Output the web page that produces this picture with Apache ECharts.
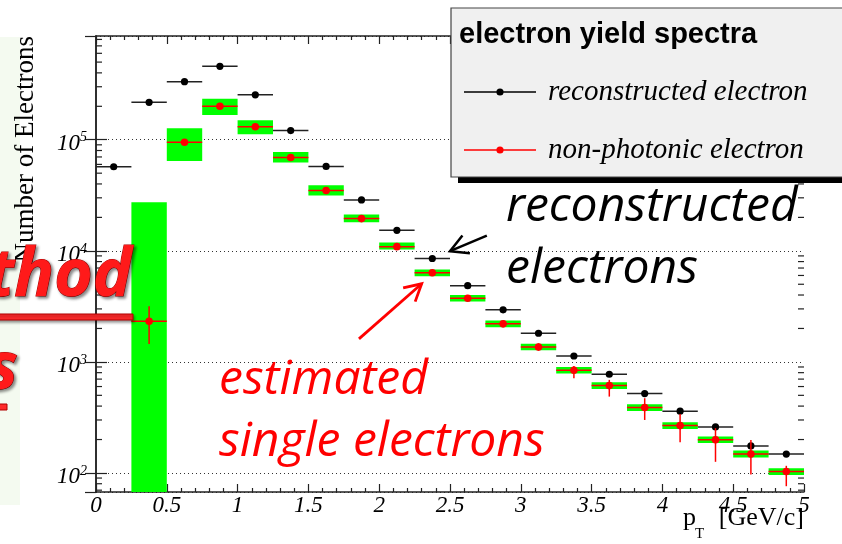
<!DOCTYPE html>
<html>
<head>
<meta charset="utf-8">
<script src="https://cdn.jsdelivr.net/npm/echarts@6/dist/echarts.min.js"></script>
<style>
  html, body { margin: 0; padding: 0; background: #fff; }
  #chart { width: 842px; height: 544px; }
</style>
</head>
<body>
<div id="chart"></div>
<script>
// pT bins [GeV/c]
const binLow  = [0.00, 0.25, 0.50, 0.75, 1.00, 1.25, 1.50, 1.75, 2.00, 2.25, 2.50, 2.75, 3.00, 3.25, 3.50, 3.75, 4.00, 4.25, 4.50, 4.75];
const binHigh = [0.25, 0.50, 0.75, 1.00, 1.25, 1.50, 1.75, 2.00, 2.25, 2.50, 2.75, 3.00, 3.25, 3.50, 3.75, 4.00, 4.25, 4.50, 4.75, 5.00];

// reconstructed electron yield per bin
const recoCounts = [57100, 217000, 333000, 458000, 254000, 121000, 57500, 28700, 15300, 8530, 4860, 2940, 1810, 1130, 774, 518, 360, 260, 175, 148];

// non-photonic electron yield with statistical error range
const npeCounts = [null, 2320, 94800, 200000, 131000, 69300, 34900, 19500, 10900, 6340, 3740, 2200, 1360, 841, 612, 388, 267, 199, 148, 103];
const npeStatLo = [null, 1450, 92000, 195000, 128000, 67600, 33900, 18900, 10500, 6080, 3560, 2070, 1260, 713, 487, 300, 189, 126, 97, 76];
const npeStatHi = [null, 3170, 97600, 205000, 134000, 71000, 35900, 20100, 11300, 6600, 3930, 2340, 1470, 920, 689, 471, 340, 253, 198, 116];

// systematic band of the non-photonic yield
const npeSysLo = [null, 1, 64300, 167000, 112000, 62500, 31400, 18100, 10300, 5910, 3490, 2050, 1270, 785, 570, 362, 249, 186, 138, 96];
const npeSysHi = [null, 27400, 127000, 234000, 150000, 77400, 38900, 21200, 11900, 6800, 4010, 2360, 1460, 900, 655, 415, 286, 213, 159, 110];

// axis ticks
const xTickLabels = ['0', '0.5', '1', '1.5', '2', '2.5', '3', '3.5', '4', '4.5', '5'];
const yMin = 67.4, yMax = 859000;
const yMinorMantissa = [2, 3, 4, 5, 6, 7, 8, 9];
const yDecades = [1, 2, 3, 4, 5];

const serif = '"Liberation Serif", "Times New Roman", serif';
const sans = '"Liberation Sans", Arial, sans-serif';
const hand = '"Open Sans", "Noto Sans", sans-serif';

const bandData = [], recoData = [], npeData = [], minorTicks = [];
for (let i = 0; i < binLow.length; i++) {
  recoData.push([binLow[i], binHigh[i], recoCounts[i]]);
  if (npeCounts[i] != null) npeData.push([binLow[i], binHigh[i], npeCounts[i], npeStatLo[i], npeStatHi[i]]);
  if (npeSysHi[i] != null) bandData.push([binLow[i], binHigh[i], npeSysLo[i], npeSysHi[i]]);
}
yDecades.forEach(d => yMinorMantissa.forEach(m => {
  const v = m * Math.pow(10, d);
  if (v > yMin && v < yMax) minorTicks.push([0, v]);
}));

function clipToGrid(rect, cs) {
  return echarts.graphic.clipRectByRect(rect, { x: cs.x, y: cs.y, width: cs.width, height: cs.height });
}

function renderBand(params, api) {
  const p0 = api.coord([api.value(0), api.value(3)]);
  const p1 = api.coord([api.value(1), api.value(2)]);
  const shape = clipToGrid({ x: p0[0], y: p0[1], width: p1[0] - p0[0], height: p1[1] - p0[1] }, params.coordSys);
  return shape && { type: 'rect', shape: shape, style: { fill: '#00ff00' } };
}

function renderReco(params, api) {
  const x0 = api.value(0), x1 = api.value(1), y = api.value(2);
  const a = api.coord([x0, y]), b = api.coord([x1, y]), c = api.coord([(x0 + x1) / 2, y]);
  return {
    type: 'group',
    children: [
      { type: 'line', shape: { x1: a[0], y1: a[1], x2: b[0], y2: b[1] }, style: { stroke: '#222', lineWidth: 1.5 } },
      { type: 'circle', shape: { cx: c[0], cy: c[1], r: 3.6 }, style: { fill: '#000' } }
    ]
  };
}

function renderNpe(params, api) {
  const x0 = api.value(0), x1 = api.value(1), y = api.value(2);
  const xc = (x0 + x1) / 2;
  const a = api.coord([x0, y]), b = api.coord([x1, y]), c = api.coord([xc, y]);
  const lo = api.coord([xc, api.value(3)]), hi = api.coord([xc, api.value(4)]);
  return {
    type: 'group',
    children: [
      { type: 'line', shape: { x1: a[0], y1: a[1], x2: b[0], y2: b[1] }, style: { stroke: '#ff0000', lineWidth: 1.5 } },
      { type: 'line', shape: { x1: lo[0], y1: lo[1], x2: hi[0], y2: hi[1] }, style: { stroke: '#ff0000', lineWidth: 1.5 } },
      { type: 'circle', shape: { cx: c[0], cy: c[1], r: 3.8 }, style: { fill: '#ff0000' } }
    ]
  };
}

function renderMinorTick(params, api) {
  const cs = params.coordSys;
  const p = api.coord([0, api.value(1)]);
  const st = { stroke: '#222', lineWidth: 1.2 };
  return {
    type: 'group',
    children: [
      { type: 'line', shape: { x1: cs.x, y1: p[1], x2: cs.x + 6, y2: p[1] }, style: st },
      { type: 'line', shape: { x1: cs.x + cs.width, y1: p[1], x2: cs.x + cs.width - 6, y2: p[1] }, style: st }
    ]
  };
}

// legend marker: line with a dot in the middle
const legendIcon = 'path://M0,3H32.6V4.4H0Z M39.4,3H72V4.4H39.4Z M32.4,3.7A3.6,3.6 0 1 1 39.6,3.7A3.6,3.6 0 1 1 32.4,3.7Z';
const axisLine = { show: true, lineStyle: { color: '#222', width: 1.5 } };

const xAxisBase = {
  type: 'value', min: 0, max: 5, interval: 0.5,
  axisLine: axisLine,
  axisTick: { show: true, inside: true, length: 8, lineStyle: { color: '#222', width: 1.2 } },
  minorTick: { show: true, splitNumber: 5, length: 4, lineStyle: { color: '#222', width: 1.2 } },
  splitLine: { show: false }
};
const yAxisBase = {
  type: 'log', logBase: 10, min: yMin, max: yMax,
  axisLine: axisLine,
  axisTick: { show: true, inside: true, length: 11, lineStyle: { color: '#222', width: 1.2 } },
  splitLine: { show: false }
};

const chart = echarts.init(document.getElementById('chart'));

chart.setOption({
  animation: false,
  backgroundColor: '#fff',
  grid: { left: 96, right: 38, top: 36, bottom: 52 },
  xAxis: [
    Object.assign({}, xAxisBase, {
      position: 'bottom',
      axisLabel: {
        margin: 2, color: '#000', fontFamily: serif, fontStyle: 'italic', fontSize: 23,
        formatter: v => xTickLabels[Math.round(v / 0.5)]
      }
    }),
    Object.assign({}, xAxisBase, { position: 'top', axisLabel: { show: false } })
  ],
  yAxis: [
    Object.assign({}, yAxisBase, {
      position: 'left',
      splitLine: { show: true, lineStyle: { color: '#333', width: 1, type: [1, 3] } },
      axisLabel: {
        margin: 9, showMinLabel: false, showMaxLabel: false, color: '#000',
        formatter: v => '{b|10}{s|' + Math.round(Math.log10(v)) + '}',
        rich: {
          b: { fontFamily: serif, fontStyle: 'italic', fontSize: 23, padding: [8, 0, 0, 0], color: '#000' },
          s: { fontFamily: serif, fontStyle: 'italic', fontSize: 14, padding: [0, 0, 4, 0], color: '#000' }
        }
      }
    }),
    Object.assign({}, yAxisBase, { position: 'right', axisLabel: { show: false } })
  ],
  legend: {
    left: 464, top: 77, orient: 'vertical', padding: 0,
    itemWidth: 72, itemHeight: 7.2, itemGap: 28, selectedMode: false, z: 20,
    textStyle: { fontFamily: serif, fontStyle: 'italic', fontSize: 29, lineHeight: 30, color: '#000', padding: [0, 0, 0, 7] },
    data: [
      { name: 'reconstructed electron', icon: legendIcon },
      { name: 'non-photonic electron', icon: legendIcon }
    ]
  },
  series: [
    { type: 'custom', name: 'sys', silent: true, renderItem: renderBand, data: bandData, encode: { x: [0, 1], y: [2, 3] }, z: 2 },
    { type: 'custom', name: 'reconstructed electron', renderItem: renderReco, data: recoData, itemStyle: { color: '#000' }, encode: { x: [0, 1], y: 2 }, z: 3 },
    { type: 'custom', name: 'non-photonic electron', renderItem: renderNpe, data: npeData, itemStyle: { color: '#ff0000' }, encode: { x: [0, 1], y: [2, 3, 4] }, z: 4 },
    { type: 'custom', silent: true, renderItem: renderMinorTick, data: minorTicks, encode: { x: 0, y: 1 }, z: 5 }
  ]
});

// annotation arrows anchored in data space
function px(pt) { return chart.convertToPixel({ seriesIndex: 1 }, pt); }
function arrow(tail, tip, color, width, head) {
  const t = px(tail), h = px(tip);
  const ang = Math.atan2(t[1] - h[1], t[0] - h[0]);
  const w1 = [h[0] + head * Math.cos(ang + 0.5), h[1] + head * Math.sin(ang + 0.5)];
  const w2 = [h[0] + head * Math.cos(ang - 0.5), h[1] + head * Math.sin(ang - 0.5)];
  return [
    { type: 'polyline', z: 30, shape: { points: [t, h] }, style: { stroke: color, lineWidth: width, fill: null } },
    { type: 'polyline', z: 30, shape: { points: [w1, h, w2] }, style: { stroke: color, lineWidth: width, fill: null, lineJoin: 'miter' } }
  ];
}

const headingStyle = {
  font: 'italic bold 66px ' + hand, fill: '#ff1a1a', stroke: '#b00000', lineWidth: 1,
  align: 'right', verticalAlign: 'middle',
  textShadowColor: 'rgba(0,0,0,0.45)', textShadowBlur: 3, textShadowOffsetX: 2, textShadowOffsetY: 2
};
const noteFont = 'italic 48px ' + hand;

const graphics = [
  // slide text-box edge on the left
  { type: 'rect', z: -1, shape: { x: 0, y: 37, width: 20, height: 468 }, style: { fill: '#f4faf0' } },
  // y axis title
  { type: 'text', z: 6, x: 26, y: 36, rotation: Math.PI / 2,
    style: { text: 'Number of Electrons', font: '27px ' + serif, fill: '#000', align: 'right', verticalAlign: 'middle' } },
  // x axis title
  { type: 'text', z: 6, x: 683, y: 518, style: { text: 'p', font: '26px ' + serif, fill: '#000', align: 'left', verticalAlign: 'middle' } },
  { type: 'text', z: 6, x: 695, y: 534, style: { text: 'T', font: '15px ' + serif, fill: '#000', align: 'left', verticalAlign: 'middle' } },
  { type: 'text', z: 6, x: 804, y: 518, style: { text: '[GeV/c]', font: '26px ' + serif, fill: '#000', align: 'right', verticalAlign: 'middle' } },
  // legend frame
  { type: 'rect', z: 10, shape: { x: 458, y: 14, width: 400, height: 169 }, style: { fill: '#000' } },
  { type: 'rect', z: 11, shape: { x: 451, y: 8, width: 400, height: 169 }, style: { fill: '#f0f0f0', stroke: '#444', lineWidth: 1.2 } },
  { type: 'text', z: 12, x: 459, y: 35, style: { text: 'electron yield spectra', font: 'bold 29px ' + sans, fill: '#000', align: 'left', verticalAlign: 'middle' } },
  // annotations
  { type: 'text', z: 30, x: 506, y: 207, style: { text: 'reconstructed', font: noteFont, fill: '#000', align: 'left', verticalAlign: 'middle' } },
  { type: 'text', z: 30, x: 506, y: 269, style: { text: 'electrons', font: noteFont, fill: '#000', align: 'left', verticalAlign: 'middle' } },
  { type: 'text', z: 30, x: 219, y: 380, style: { text: 'estimated', font: noteFont, fill: '#ff0000', align: 'left', verticalAlign: 'middle' } },
  { type: 'text', z: 30, x: 219, y: 442, style: { text: 'single electrons', font: noteFont, fill: '#ff0000', align: 'left', verticalAlign: 'middle' } },
  // slide heading fragments on the left
  { type: 'text', z: 30, x: 132, y: 277, style: Object.assign({ text: 'Method' }, headingStyle) },
  { type: 'rect', z: 30, shape: { x: -6, y: 314, width: 139, height: 6 }, style: { fill: '#ff2a2a', stroke: '#b00000', lineWidth: 1, shadowColor: 'rgba(0,0,0,0.4)', shadowBlur: 3, shadowOffsetX: 1, shadowOffsetY: 2 } },
  { type: 'text', z: 30, x: 18, y: 370, style: Object.assign({ text: 's' }, headingStyle) },
  { type: 'rect', z: 30, shape: { x: -6, y: 404, width: 13, height: 6 }, style: { fill: '#ff2a2a', stroke: '#b00000', lineWidth: 1 } }
]
  .concat(arrow([2.76, 13700], [2.5, 9920], '#000', 2.5, 20))
  .concat(arrow([1.857, 1610], [2.30, 5050], '#ff0000', 2.8, 19));

chart.setOption({ graphic: graphics });
</script>
</body>
</html>
